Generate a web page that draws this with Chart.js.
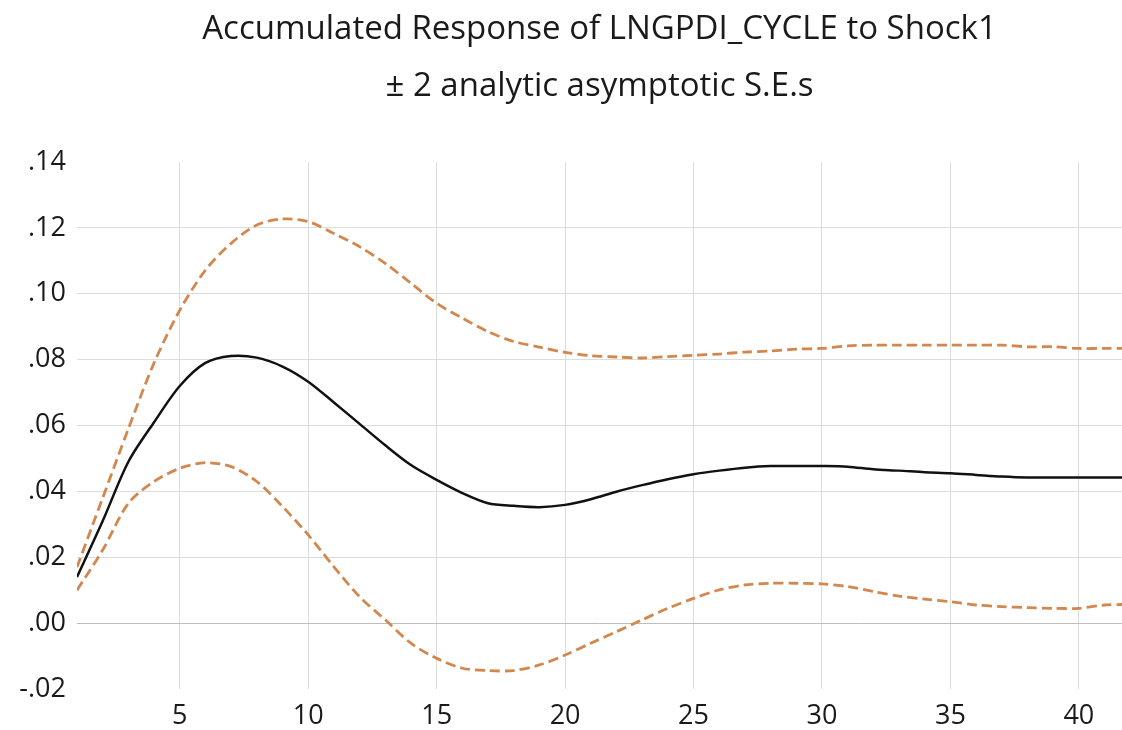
<!DOCTYPE html>
<html>
<head>
<meta charset="utf-8">
<script src="https://cdn.jsdelivr.net/npm/chart.js@4"></script>
<style>
  html, body { margin: 0; padding: 0; background: #fff; }
  #wrap { width: 1122px; height: 730px; }
</style>
</head>
<body>
<div id="wrap"><canvas id="irfChart" width="1122" height="730"></canvas></div>
<script>
const titleLines = ['Accumulated Response of LNGPDI_CYCLE to Shock1', '\u00b1 2 analytic asymptotic S.E.s'];

const periods = [1, 2, 3, 4, 5, 6, 7, 8, 9, 10, 11, 12, 13, 14, 15, 16, 17, 18, 19, 20, 21,
                 22, 23, 24, 25, 26, 27, 28, 29, 30, 31, 32, 33, 34, 35, 36, 37, 38, 39, 40, 41, 42];

const response = [0.014, 0.031, 0.049, 0.061, 0.072, 0.079, 0.0811, 0.0806, 0.0779, 0.0733,
                  0.067, 0.0605, 0.054, 0.048, 0.0435, 0.0395, 0.0364, 0.0356, 0.0352, 0.0359,
                  0.0376, 0.0399, 0.0419, 0.0437, 0.0452, 0.0463, 0.0472, 0.0477, 0.0477, 0.0477,
                  0.0475, 0.0467, 0.0463, 0.0458, 0.0455, 0.045, 0.0445, 0.0442, 0.0442, 0.0442,
                  0.0442, 0.0442];

const upperBand = [0.017, 0.038, 0.059, 0.079, 0.095, 0.1072, 0.1153, 0.1209, 0.1227, 0.1219,
                   0.1183, 0.1143, 0.1092, 0.1032, 0.0971, 0.0926, 0.0885, 0.0855, 0.0838, 0.0822,
                   0.0812, 0.0808, 0.0805, 0.0809, 0.0813, 0.0817, 0.0823, 0.0826, 0.0832, 0.0834,
                   0.0842, 0.0844, 0.0844, 0.0844, 0.0844, 0.0844, 0.0844, 0.0839, 0.0839, 0.0834,
                   0.0834, 0.0834];

const lowerBand = [0.010, 0.0222, 0.0364, 0.043, 0.047, 0.0487, 0.0475, 0.043, 0.0354, 0.0268,
                   0.0171, 0.008, 0.001, -0.0061, -0.0107, -0.0137, -0.0144, -0.0144, -0.0127, -0.0097,
                   -0.0061, -0.0026, 0.001, 0.0045, 0.0075, 0.0101, 0.0116, 0.0121, 0.0121, 0.0119,
                   0.0111, 0.0096, 0.0082, 0.0073, 0.0065, 0.0055, 0.005, 0.0047, 0.0045, 0.0045,
                   0.0055, 0.0057];

const xTicks = [5, 10, 15, 20, 25, 30, 35, 40];
const yTicks = [-0.02, 0.00, 0.02, 0.04, 0.06, 0.08, 0.10, 0.12, 0.14];

const FONT = '"Open Sans", Lato, sans-serif';

function toPoints(values) {
    return periods.map((p, i) => ({ x: p, y: values[i] }));
}

// two-line title, centred over the plot area
const titlePlugin = {
    id: 'twoLineTitle',
    afterDraw(chart) {
        const ctx = chart.ctx;
        const cx = (chart.chartArea.left + chart.chartArea.right) / 2;
        ctx.save();
        ctx.fillStyle = '#1a1a1a';
        ctx.font = '33px ' + FONT;
        ctx.textAlign = 'center';
        ctx.textBaseline = 'middle';
        ctx.fillText(titleLines[0], cx, 30);
        ctx.fillText(titleLines[1], cx, 87);
        ctx.restore();
    }
};

const ctx = document.getElementById('irfChart').getContext('2d');
const chart = new Chart(ctx, {
    type: 'line',
    data: {
        datasets: [
            {
                label: 'Response',
                data: toPoints(response),
                borderColor: '#111111',
                borderWidth: 2.5,
                pointRadius: 0,
                tension: 0.3,
                fill: false
            },
            {
                label: '+2 S.E.',
                data: toPoints(upperBand),
                borderColor: '#D2874F',
                borderWidth: 2.8,
                borderDash: [10, 5],
                pointRadius: 0,
                tension: 0.3,
                fill: false
            },
            {
                label: '-2 S.E.',
                data: toPoints(lowerBand),
                borderColor: '#D2874F',
                borderWidth: 2.8,
                borderDash: [10, 5],
                pointRadius: 0,
                tension: 0.3,
                fill: false
            }
        ]
    },
    options: {
        responsive: false,
        animation: false,
        devicePixelRatio: 1,
        layout: { padding: { top: 162, right: 0, left: 0, bottom: 0 } },
        plugins: {
            legend: { display: false },
            tooltip: { enabled: false }
        },
        scales: {
            x: {
                type: 'linear',
                min: 1,
                max: 41.68,
                afterBuildTicks: scale => { scale.ticks = xTicks.map(v => ({ value: v })); },
                afterFit: scale => { scale.height = 41; },
                border: { display: false },
                grid: { color: '#DCDCDC', lineWidth: 1, drawTicks: false },
                ticks: {
                    padding: 11,
                    color: '#1a1a1a',
                    font: { family: FONT, size: 27 },
                    maxRotation: 0
                }
            },
            y: {
                min: -0.02,
                max: 0.14,
                afterBuildTicks: scale => { scale.ticks = yTicks.map(v => ({ value: v })); },
                afterFit: scale => { scale.width = 77; },
                border: { display: false },
                grid: {
                    drawTicks: false,
                    lineWidth: 1,
                    color: c => {
                        const v = Math.round(c.tick.value * 100);
                        if (v === 14 || v === -2) return 'rgba(0,0,0,0)';
                        if (v === 0) return '#BDBDBD';
                        return '#DCDCDC';
                    }
                },
                ticks: {
                    padding: 11,
                    color: '#1a1a1a',
                    font: { family: FONT, size: 27 },
                    callback: v => v.toFixed(2).replace('0.', '.')
                }
            }
        }
    },
    plugins: [titlePlugin]
});
</script>
</body>
</html>
